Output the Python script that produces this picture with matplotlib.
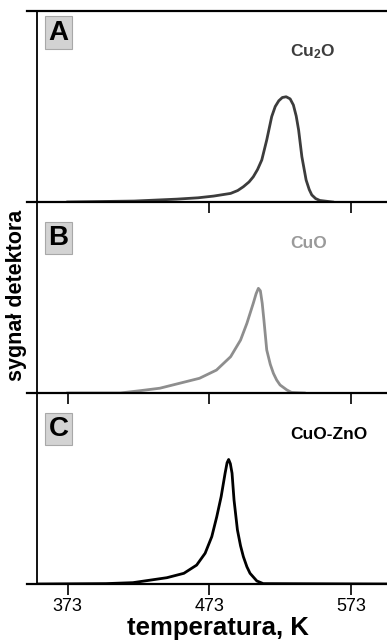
import matplotlib
matplotlib.use("Agg")
import matplotlib.pyplot as plt

plt.rcParams['font.family'] = ['Liberation Sans', 'DejaVu Sans']
plt.rcParams['mathtext.fontset'] = 'custom'
plt.rcParams['mathtext.rm'] = 'Liberation Sans:bold'
plt.rcParams['mathtext.default'] = 'rm'

# temperatura [K] i sygnał detektora (ułamek wysokości panelu)
t_cu2o = [373, 420, 450, 465, 476, 488, 493, 497, 501, 504, 507, 510, 513.5, 517, 519.5, 522,
          524.5, 527.2, 530, 532.3, 534.3, 536, 538.3, 541.3, 543.5, 545.3, 548, 551, 560]
s_cu2o = [0.0, 0.005, 0.015, 0.022, 0.031, 0.045, 0.060, 0.080, 0.105, 0.132, 0.170, 0.220,
          0.325, 0.447, 0.500, 0.530, 0.547, 0.551, 0.540, 0.508, 0.450, 0.377, 0.237, 0.115,
          0.065, 0.037, 0.018, 0.008, 0.0]

t_cuo = [373, 410, 424, 438, 452, 466, 478, 488, 495, 499.5, 504, 506, 507.6, 509, 510.3,
         511.5, 513.5, 516, 518.2, 520.5, 522.9, 527.7, 531, 540]
s_cuo = [0.0, 0.0, 0.012, 0.025, 0.051, 0.077, 0.120, 0.190, 0.277, 0.365, 0.470, 0.520, 0.548,
         0.535, 0.470, 0.382, 0.225, 0.150, 0.103, 0.068, 0.042, 0.016, 0.003, 0.0]

t_cuozno = [352, 400, 419, 431, 443, 455, 464, 470, 474.7, 478.2, 481.3, 484.1, 485.5, 486.6,
            487.8, 489, 490.4, 492.8, 495, 497, 499.5, 501.7, 506.5, 511, 599]
s_cuozno = [0.0, 0.002, 0.007, 0.020, 0.033, 0.056, 0.099, 0.161, 0.248, 0.352, 0.457, 0.580,
            0.635, 0.652, 0.630, 0.580, 0.440, 0.283, 0.200, 0.143, 0.090, 0.056, 0.016, 0.002, 0.0]

panels = ['A', 'B', 'C']
names = ['Cu$_2$O', 'CuO', 'CuO-ZnO']
temps = [t_cu2o, t_cuo, t_cuozno]
signals = [s_cu2o, s_cuo, s_cuozno]
colors = ['#3c3c3c', '#8e8e8e', '#000000']
name_colors = ['#3c3c3c', '#9a9a9a', '#000000']
ticks = [[473, 573], [373, 473, 573], [373, 473, 573]]
box_top = [0.955, 0.88, 0.88]

fig = plt.figure(figsize=(3.87, 6.41), dpi=100)
W, H = 387, 641
left = 37 / W
width = 350 / W
h = 191 / H
bottoms = [1 - 202 / H, 1 - 393 / H, 1 - 584 / H]

for i in range(3):
    ax = fig.add_axes([left, bottoms[i], width, h])
    ax.plot(temps[i], signals[i], color=colors[i], lw=2.0, solid_joinstyle='round')
    ax.set_xlim(351.3, 598.4)
    ax.set_ylim(0, 1)
    ax.set_yticks([])
    ax.set_xticks(ticks[i])
    ax.tick_params(axis='x', direction='out', length=8, width=1.2, pad=2,
                   labelsize=13, color='black')
    if i < 2:
        ax.tick_params(axis='x', labelbottom=False)
    ax.spines['right'].set_visible(False)
    ax.spines['left'].set_linewidth(1.3)
    ax.spines['bottom'].set_linewidth(1.6)
    ax.spines['bottom'].set_bounds(344.3, 598.4)
    if i == 0:
        ax.spines['top'].set_linewidth(1.6)
        ax.spines['top'].set_bounds(344.3, 598.4)
    else:
        ax.spines['top'].set_visible(False)
    ax.patch.set_alpha(0)
    ax.text(0.033, box_top[i], panels[i], transform=ax.transAxes, fontsize=20,
            fontweight='bold', ha='left', va='top',
            bbox=dict(boxstyle='square,pad=0.12', fc='#d3d3d3', ec='#a8a8a8', lw=0.8))
    ax.text(0.723, 0.785, names[i], transform=ax.transAxes, fontsize=12.5,
            fontweight='bold', color=name_colors[i], ha='left', va='center')

fig.text(17 / W, 1 - 295 / H, 'sygnał detektora', rotation=90, fontsize=15.5,
         fontweight='bold', ha='center', va='center')
fig.text(218 / W, 1 - 628 / H, 'temperatura, K', fontsize=18.5,
         fontweight='bold', ha='center', va='center')

fig.savefig('out.png', dpi=100)
